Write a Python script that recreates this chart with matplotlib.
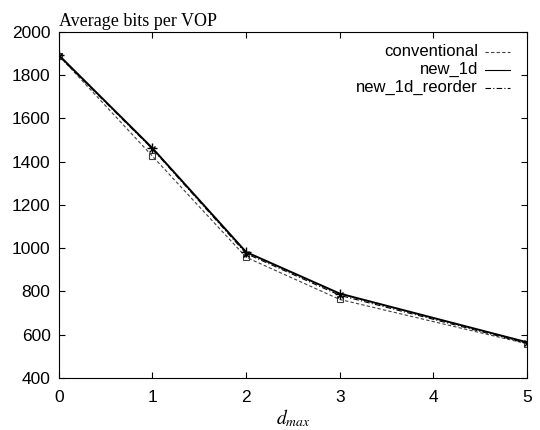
import numpy as np
import matplotlib.pyplot as plt

plt.rcParams['font.family'] = ['Liberation Sans', 'DejaVu Sans']
plt.rcParams['mathtext.fontset'] = 'stix'

# data
dmax = [0, 1, 2, 3, 5]
conventional = [1890, 1425, 958, 763, 558]
new_1d = [1892, 1462, 982, 790, 565]
new_1d_reorder = [1888, 1458, 975, 782, 560]
labels = ['conventional', 'new_1d', 'new_1d_reorder']

fig = plt.figure(figsize=(5.4, 4.3), dpi=100)
ax = fig.add_axes([0.109, 0.121, 0.867, 0.805])

styles = [dict(color='0.25', lw=0.8, ls=(0, (3, 2)), marker='s', ms=5, mfc='none', mew=0.8),
          dict(color='black', lw=1.4, ls='-', marker='+', ms=7, mew=1.0),
          dict(color='black', lw=0.8, ls=(0, (5, 2, 1, 2)), marker='x', ms=5, mew=1.0)]

for ys, st in zip([conventional, new_1d, new_1d_reorder], styles):
    ax.plot(dmax, ys, **st)

ax.set_xlim(0, 5)
ax.set_ylim(400, 2000)
ax.set_xticks(np.arange(0, 6, 1))
ax.set_yticks(np.arange(400, 2001, 200))
ax.tick_params(direction='in', top=True, right=True, labelsize=12.5, length=4)
ax.tick_params(axis='x', pad=9)
ax.tick_params(axis='y', pad=6)

ax.set_xlabel(r'$d_{max}$', fontsize=14, labelpad=1)
ax.set_title('Average bits per VOP', loc='left', fontsize=13,
             family='Liberation Serif', pad=4, x=0.0)

# gnuplot-style key: right-aligned labels, line sample to the right
for i, (lab, st) in enumerate(zip(labels, styles)):
    yy = 0.942 - i * 0.052
    ax.text(0.895, yy, lab, transform=ax.transAxes, ha='right', va='center', fontsize=12)
    ax.plot([0.91, 0.964], [yy, yy], transform=ax.transAxes,
            color=st['color'], lw=0.8, ls=st['ls'])

fig.savefig('out.png', dpi=100)
